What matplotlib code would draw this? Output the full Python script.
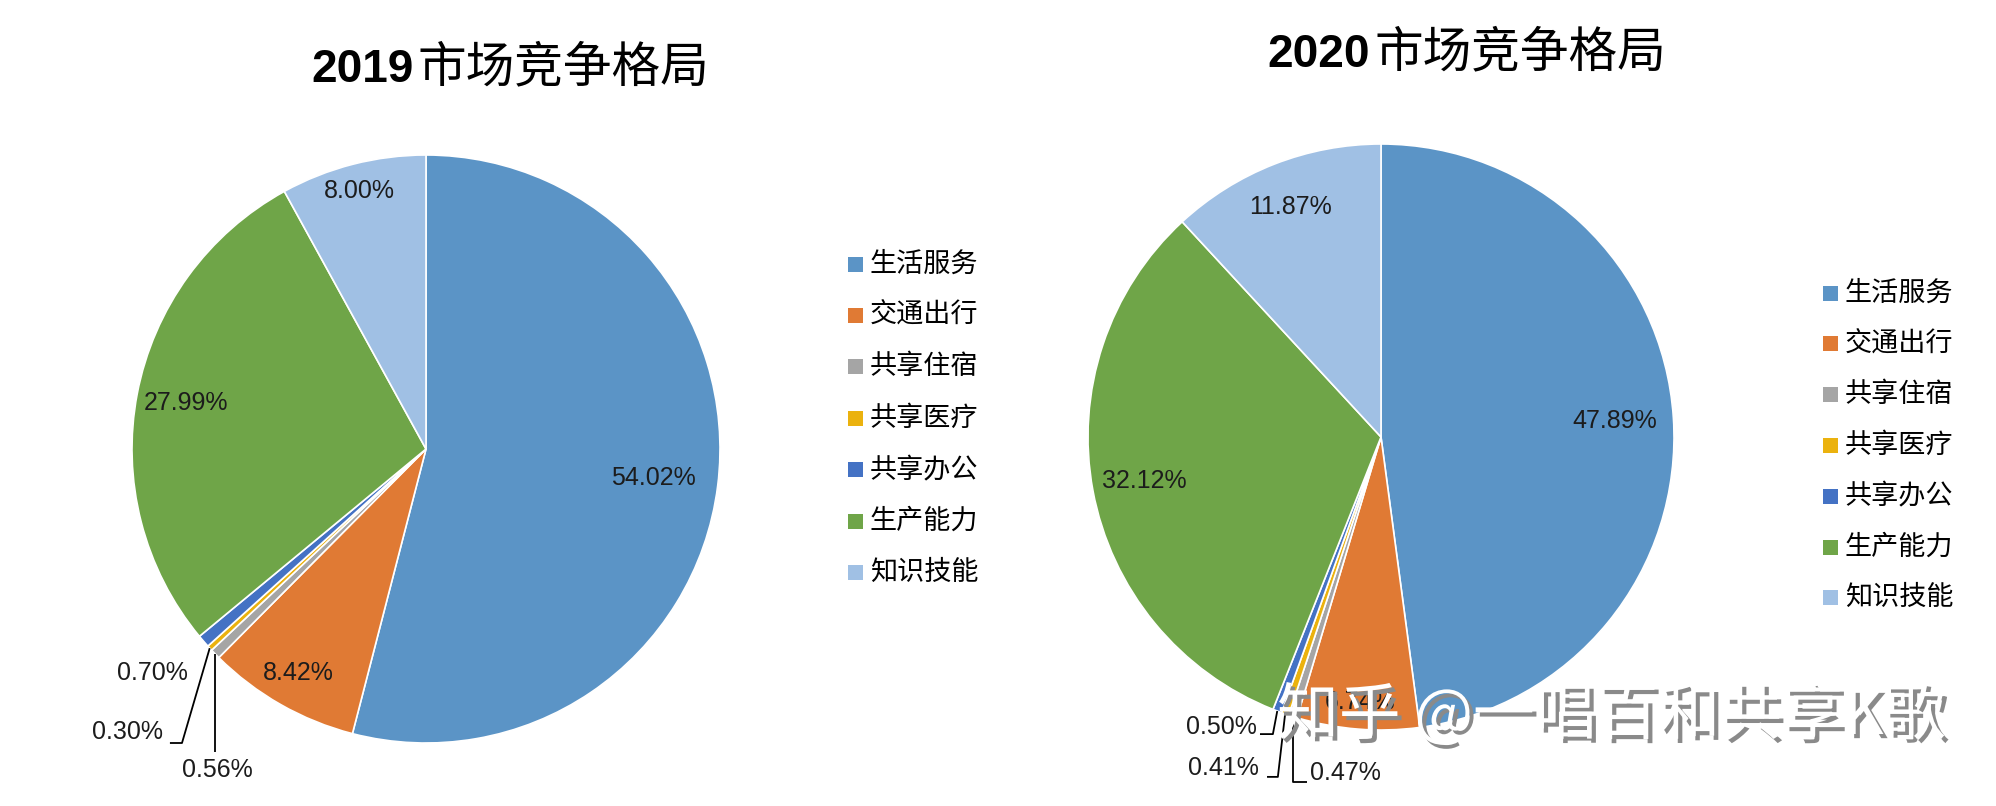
import matplotlib
matplotlib.use('Agg')
import matplotlib.pyplot as plt
import numpy as np
from matplotlib.offsetbox import TextArea, HPacker, AnnotationBbox
from matplotlib.patches import Rectangle
import matplotlib.patheffects as pe

# ---------------- data ----------------
categories = ['生活服务', '交通出行', '共享住宿', '共享医疗', '共享办公', '生产能力', '知识技能']
values_2019 = [54.02, 8.42, 0.56, 0.30, 0.70, 27.99, 8.00]
values_2020 = [47.89, 6.74, 0.47, 0.41, 0.50, 32.12, 11.87]
year_2019 = '2019'
year_2020 = '2020'
title_rest = '市场竞争格局'
watermark = '知乎 @一唱百和共享K歌'

colors = ['#5B94C6', '#E07A34', '#A5A5A5', '#EBB20E', '#4472C4', '#6FA548', '#A0C0E4']

# ---------------- layout ----------------
W, H = 1996, 806
fig = plt.figure(figsize=(W / 100, H / 100), dpi=100)
fig.patch.set_facecolor('white')

CJK = ['Noto Sans CJK SC', 'DejaVu Sans']
PCT_FONT = dict(fontsize=18, family='Liberation Sans', color='#1c1c1c')


def pie_axes(cx, cy, R):
    ax = fig.add_axes([(cx - R) / W, (H - cy - R) / H, 2 * R / W, 2 * R / H])
    return ax


def draw_pie(ax, values, big_r, small):
    wedges, _ = ax.pie(values, colors=colors, startangle=90, counterclock=False,
                       radius=1, center=(0, 0),
                       wedgeprops=dict(edgecolor='white', linewidth=1.2))
    ax.set_xlim(-1, 1)
    ax.set_ylim(-1, 1)
    ax.set_aspect('equal')
    ax.axis('off')
    for i, w in enumerate(wedges):
        mid = np.deg2rad((w.theta1 + w.theta2) / 2)
        lab = f'{values[i]:.2f}%'
        if i in big_r:
            r = big_r[i]
            ax.text(r * np.cos(mid), r * np.sin(mid), lab, ha='center', va='center', **PCT_FONT)
        elif i in small:
            info = small[i]
            tx, ty = info['text']
            ax.text(tx, ty, lab, ha='center', va='center', clip_on=False, **PCT_FONT)
            if info['leader']:
                ex, ey = np.cos(mid), np.sin(mid)
                xs, ys = [ex], [ey]
                for (lx, ly) in info['leader']:
                    xs.append(ex if lx is None else lx)
                    ys.append(ly)
                ax.plot(xs, ys, color='black', lw=1.3, clip_on=False, solid_capstyle='butt')


def draw_legend(x_sq, y0, dy):
    for i, (cat, col) in enumerate(zip(categories, colors)):
        y = y0 + i * dy
        fig.patches.append(Rectangle((x_sq / W, 1 - (y + 7.5) / H), 15 / W, 15 / H,
                                     transform=fig.transFigure, facecolor=col, edgecolor='none'))
        fig.text((x_sq + 22) / W, 1 - y / H, cat, fontsize=19.5, family=CJK,
                 va='center', ha='left', color='black')


def draw_title(cx, cy, year):
    t1 = TextArea(year, textprops=dict(fontsize=33, fontweight='bold', family='Liberation Sans', color='black'))
    t2 = TextArea(title_rest, textprops=dict(fontsize=35, family=CJK, color='black'))
    box = HPacker(children=[t1, t2], align='baseline', pad=0, sep=3)
    ab = AnnotationBbox(box, (cx / W, 1 - cy / H), xycoords='figure fraction',
                        frameon=False, box_alignment=(0.5, 0.5), pad=0)
    fig.add_artist(ab)


# 2019
ax1 = pie_axes(426, 449, 294)
draw_pie(ax1, values_2019,
         big_r={0: 0.78, 1: 0.877, 5: 0.831, 6: 0.907},
         small={4: dict(text=(-0.932, -0.762), leader=None),
                3: dict(text=(-1.014, -0.963), leader=[(-0.830, -1.000), (-0.871, -1.000)]),
                2: dict(text=(-0.711, -1.092), leader=[(None, -1.031)])})
draw_title(510, 68, year_2019)
draw_legend(848, 264, 51.4)

# 2020
ax2 = pie_axes(1381, 437, 293)
draw_pie(ax2, values_2020,
         big_r={0: 0.80, 1: 0.907, 5: 0.823, 6: 0.844},
         small={4: dict(text=(-0.543, -0.990), leader=[(-0.369, -1.014), (-0.413, -1.014)]),
                3: dict(text=(-0.539, -1.130), leader=[(-0.352, -1.160), (-0.389, -1.160)]),
                2: dict(text=(-0.123, -1.147), leader=[(None, -1.177), (-0.253, -1.177)])})
draw_title(1467, 53, year_2020)
draw_legend(1823, 293, 50.8)

# watermark
fig.text(1611 / W, 1 - 716 / H, watermark, fontsize=44.5, color='white', family=CJK,
         ha='center', va='center', zorder=10,
         path_effects=[pe.withSimplePatchShadow(offset=(3, -3), shadow_rgbFace='#8a8a8a', alpha=1.0)])

fig.savefig('out.png', dpi=100, facecolor='white')
